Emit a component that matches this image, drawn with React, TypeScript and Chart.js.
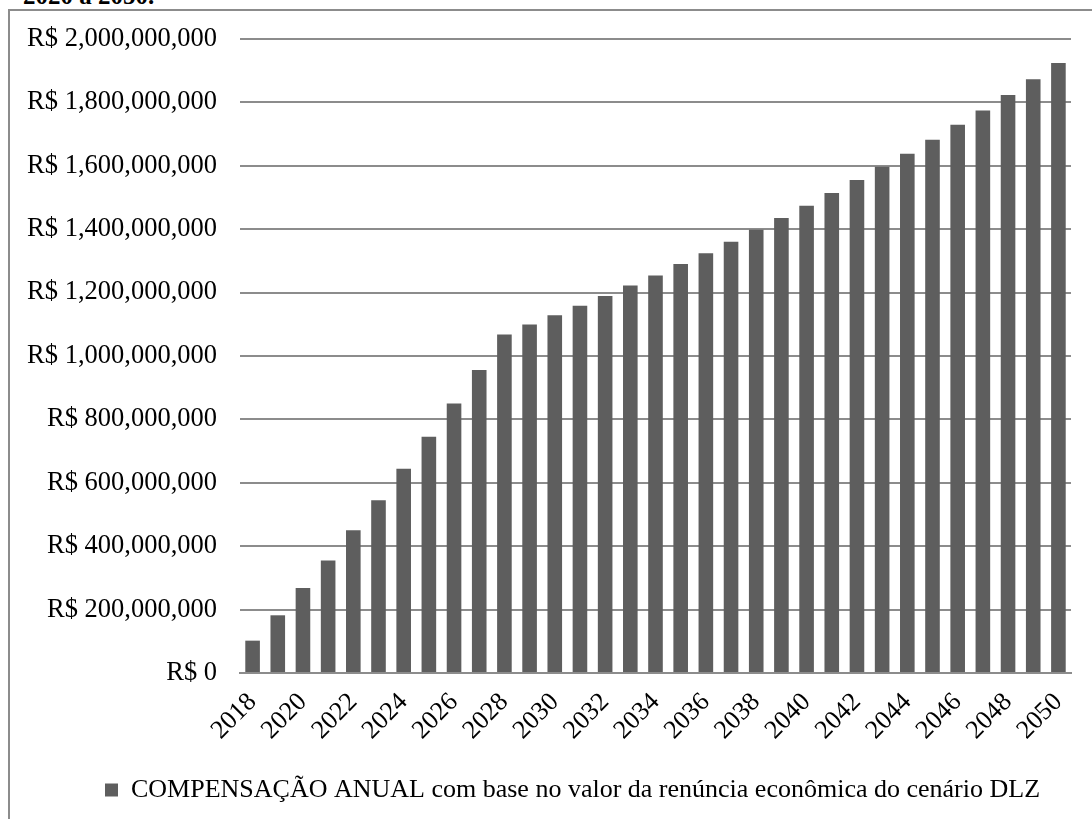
import React, { useEffect, useRef } from "react";
import { Chart, registerables } from "chart.js";

Chart.register(...registerables);

const years: string[] = [
  "2018", "2019", "2020", "2021", "2022", "2023", "2024", "2025", "2026", "2027",
  "2028", "2029", "2030", "2031", "2032", "2033", "2034", "2035", "2036", "2037",
  "2038", "2039", "2040", "2041", "2042", "2043", "2044", "2045", "2046", "2047",
  "2048", "2049", "2050",
];

const compensacao: number[] = [
  102e6, 182e6, 268e6, 355e6, 450e6, 545e6, 644e6, 745e6, 850e6, 956e6,
  1068e6, 1099e6, 1128e6, 1158e6, 1189e6, 1222e6, 1254e6, 1290e6, 1324e6, 1360e6,
  1398e6, 1435e6, 1474e6, 1514e6, 1555e6, 1597e6, 1638e6, 1682e6, 1729e6, 1774e6,
  1823e6, 1873e6, 1924e6,
];

const seriesLabel = "COMPENSAÇÃO ANUAL com base no valor da renúncia econômica do cenário DLZ";
const captionTail = "2020 a 2050.";

const FONT = "'Liberation Serif', 'Times New Roman', serif";

const shiftLegend = {
  id: "shiftLegend",
  afterLayout(chart: any) {
    const l = chart.legend;
    if (l) l.left += 74;
  },
};

export default function App() {
  const ref = useRef<HTMLCanvasElement | null>(null);

  useEffect(() => {
    if (!ref.current) return;
    const chart = new Chart(ref.current, {
      type: "bar",
      data: {
        labels: years,
        datasets: [
          {
            label: seriesLabel,
            data: compensacao,
            backgroundColor: "#5e5e5e",
            borderWidth: 0,
            categoryPercentage: 1,
            barPercentage: 0.58,
          },
        ],
      },
      plugins: [shiftLegend],
      options: {
        animation: false,
        responsive: false,
        maintainAspectRatio: false,
        layout: { padding: { left: 0, right: 21, top: 38, bottom: 6 } },
        plugins: {
          tooltip: { enabled: false },
          legend: {
            position: "bottom",
            labels: {
              font: { family: FONT, size: 26 },
              color: "#000",
              boxWidth: 13,
              boxHeight: 13,
              padding: 10,
            },
          },
        },
        scales: {
          x: {
            grid: { display: false, drawTicks: false },
            border: { display: true, color: "#8c8c8c", width: 2 },
            ticks: {
              autoSkip: false,
              minRotation: 45,
              maxRotation: 45,
              padding: 14,
              labelOffset: 0,
              color: "#000",
              font: { family: FONT, size: 26 },
              callback: (_v: any, i: number) => (i % 2 === 0 ? years[i] : ""),
            },
            afterFit: (s: any) => {
              s.height = 94;
              s.paddingRight = 0;
              s.paddingLeft = 0;
            },
          },
          y: {
            min: 0,
            max: 2000000000,
            grid: { color: "#8c8c8c", lineWidth: 2, drawTicks: false },
            border: { display: false },
            ticks: {
              stepSize: 200000000,
              padding: 23,
              color: "#000",
              font: { family: FONT, size: 26.5 },
              callback: (v: any) => "R$ " + Number(v).toLocaleString("en-US"),
            },
            afterFit: (s: any) => {
              s.width = 240;
            },
          },
        },
      },
    });
    return () => chart.destroy();
  }, []);

  return (
    <div
      style={{
        position: "fixed",
        left: 0,
        top: 0,
        width: 1092,
        height: 819,
        overflow: "hidden",
        background: "#fff",
      }}
    >
      <div
        style={{
          position: "absolute",
          left: 23,
          top: -17,
          fontFamily: FONT,
          fontWeight: "bold",
          fontSize: 25,
          lineHeight: "25px",
          color: "#000",
          whiteSpace: "nowrap",
        }}
      >
        {captionTail}
      </div>
      <div
        style={{
          position: "absolute",
          left: 8,
          top: 9,
          width: 1200,
          height: 1000,
          border: "2px solid #8c8c8c",
          boxSizing: "border-box",
        }}
      />
      <canvas
        ref={ref}
        width={1092}
        height={819}
        style={{ position: "absolute", left: 0, top: 0, width: 1092, height: 819 }}
      />
    </div>
  );
}
